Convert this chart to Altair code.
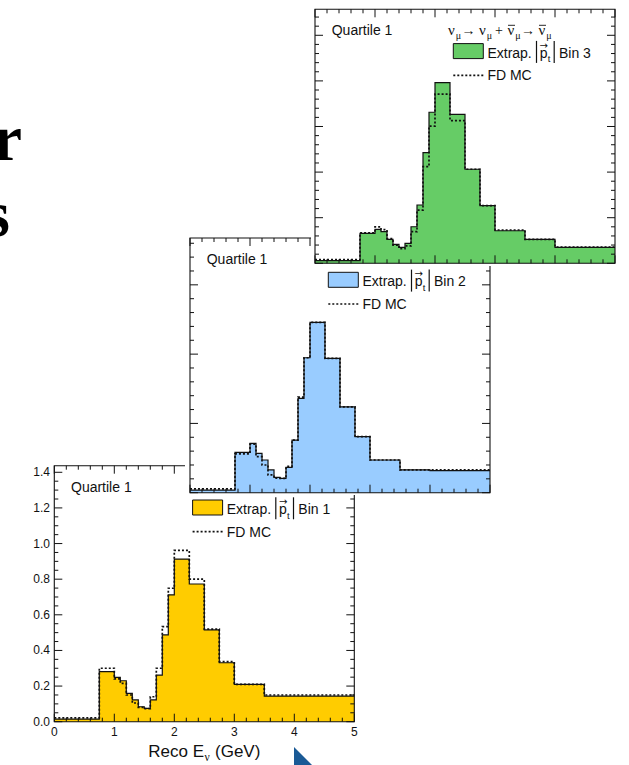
import altair as alt
import pandas as pd

# ---------------- data ----------------
bin_edges = [0, 0.75, 1.0, 1.1, 1.2, 1.3, 1.4, 1.5, 1.6, 1.7, 1.8, 1.9,
             2.0, 2.25, 2.5, 2.75, 3.0, 3.5, 4.0, 5.0]

extrap_bin1 = [0.015, 0.281, 0.249, 0.230, 0.159, 0.122, 0.084, 0.075, 0.122, 0.262,
               0.487, 0.712, 0.913, 0.773, 0.515, 0.331, 0.210, 0.144, 0.144]
fdmc_bin1 = [0.022, 0.300, 0.240, 0.215, 0.150, 0.105, 0.080, 0.073, 0.140, 0.300,
             0.534, 0.749, 0.962, 0.800, 0.520, 0.337, 0.210, 0.150, 0.150]

extrap_bin2 = [0.019, 0.291, 0.356, 0.284, 0.236, 0.164, 0.111, 0.104, 0.183, 0.380,
               0.681, 0.974, 1.229, 0.970, 0.620, 0.404, 0.236, 0.164, 0.159]
fdmc_bin2 = [0.027, 0.280, 0.350, 0.260, 0.200, 0.128, 0.105, 0.104, 0.190, 0.380,
             0.690, 0.974, 1.229, 0.970, 0.620, 0.404, 0.236, 0.164, 0.164]

extrap_bin3 = [0.029, 0.329, 0.373, 0.347, 0.263, 0.208, 0.175, 0.219, 0.401, 0.639,
               1.213, 1.656, 1.980, 1.634, 1.031, 0.632, 0.357, 0.263, 0.175]
fdmc_bin3 = [0.040, 0.335, 0.400, 0.370, 0.270, 0.200, 0.160, 0.190, 0.347, 0.584,
             1.060, 1.505, 1.856, 1.564, 1.031, 0.632, 0.365, 0.263, 0.178]

x_tick_values = [0, 1, 2, 3, 4, 5]
x_tick_labels = ["0", "1", "2", "3", "4", "5"]
y_tick_values = [0.0, 0.2, 0.4, 0.6, 0.8, 1.0, 1.2, 1.4]
y_tick_labels = ["0.0", "0.2", "0.4", "0.6", "0.8", "1.0", "1.2", "1.4"]

panel_titles = ["Quartile 1", "Quartile 1", "Quartile 1"]
legend_bins = ["Bin 1", "Bin 2", "Bin 3"]
fill_colors = ["#FFCC00", "#99CCFF", "#66CC66"]
extrap_all = [extrap_bin1, extrap_bin2, extrap_bin3]
fdmc_all = [fdmc_bin1, fdmc_bin2, fdmc_bin3]

# ---------------- layout ----------------
FONT = "Liberation Sans"
SERIF = "Liberation Serif"
INK = "#111111"
LEG = 14

geom = [
    {"L": 54.3, "R": 354.3, "T": 465.7, "B": 721.7, "ymax": 1.437, "ymaj": 0.2, "ymin": 0.05},
    {"L": 190.0, "R": 490.0, "T": 238.0, "B": 492.7, "ymax": 1.838, "ymaj": 0.5, "ymin": 0.1},
    {"L": 315.0, "R": 615.0, "T": 9.3, "B": 263.3, "ymax": 2.785, "ymaj": 0.5, "ymin": 0.1},
]
covers = [None, (185, 495, 232, 495), (311, 629, 0, 266)]

one = alt.Data(values=[{"a": 1}])
layers = []


def txt(x, y, s, size=13, font=FONT, align="left", baseline="alphabetic",
        weight="normal", color=INK):
    return alt.Chart(one).mark_text(
        text=s, font=font, fontSize=size, align=align, baseline=baseline,
        fontWeight=weight, color=color
    ).encode(x=alt.value(x), y=alt.value(y))


def rule(x1, x2, y1, y2, width=1.0, dash=None, color=INK):
    kw = dict(color=color, strokeWidth=width)
    if dash:
        kw["strokeDash"] = dash
    return alt.Chart(one).mark_rule(**kw).encode(
        x=alt.value(x1), x2=alt.value(x2), y=alt.value(y1), y2=alt.value(y2))


def step_df(vals):
    return pd.DataFrame({"e": bin_edges, "v": list(vals) + [vals[-1]]})


def ticks(step, top):
    n = int(top / step + 1e-6)
    return [round(k * step, 4) for k in range(n + 1)]


for i, g in enumerate(geom):
    L, R, T, B = g["L"], g["R"], g["T"], g["B"]
    xs = alt.Scale(domain=[0, 5], range=[L, R], nice=False, zero=False)
    ys = alt.Scale(domain=[0, g["ymax"]], range=[B, T], nice=False, zero=False)
    X = alt.X("e:Q", scale=xs, axis=None)
    Y = alt.Y("v:Q", scale=ys, axis=None)

    if covers[i]:
        c = covers[i]
        layers.append(alt.Chart(one).mark_rect(color="white", opacity=1).encode(
            x=alt.value(c[0]), x2=alt.value(c[1]), y=alt.value(c[2]), y2=alt.value(c[3])))

    ext = step_df(extrap_all[i])
    mc = step_df(fdmc_all[i])
    layers.append(alt.Chart(ext).mark_area(interpolate="step-after", color=fill_colors[i],
                                           opacity=1).encode(x=X, y=Y, y2=alt.datum(0)))
    layers.append(alt.Chart(ext).mark_line(interpolate="step-after", color=INK,
                                           strokeWidth=1.2).encode(x=X, y=Y))
    layers.append(alt.Chart(mc).mark_line(interpolate="step-after", color=INK,
                                          strokeWidth=1.7, strokeDash=[2, 2]).encode(x=X, y=Y))

    # frame
    layers.append(alt.Chart(one).mark_rect(fillOpacity=0, stroke=INK, strokeWidth=1.1).encode(
        x=alt.value(L), x2=alt.value(R), y=alt.value(T), y2=alt.value(B)))

    # ticks (inward, on all four sides)
    ymaj = ticks(g["ymaj"], g["ymax"])
    ymin = [v for v in ticks(g["ymin"], g["ymax"])
            if min(abs(v - m) for m in ymaj) > 1e-6]
    xmaj = list(x_tick_values)
    xmin = [v for v in ticks(0.2, 5) if min(abs(v - m) for m in xmaj) > 1e-6]
    for vals, ln in ((ymaj, 8), (ymin, 4)):
        d = pd.DataFrame({"v": vals})
        layers.append(alt.Chart(d).mark_rule(color=INK, strokeWidth=1).encode(
            y=Y, x=alt.value(L), x2=alt.value(L + ln)))
        layers.append(alt.Chart(d).mark_rule(color=INK, strokeWidth=1).encode(
            y=Y, x=alt.value(R - ln), x2=alt.value(R)))
    for vals, ln in ((xmaj, 8), (xmin, 4)):
        d = pd.DataFrame({"e": vals})
        layers.append(alt.Chart(d).mark_rule(color=INK, strokeWidth=1).encode(
            x=X, y=alt.value(B - ln), y2=alt.value(B)))
        layers.append(alt.Chart(d).mark_rule(color=INK, strokeWidth=1).encode(
            x=X, y=alt.value(T), y2=alt.value(T + ln)))

    # panel text
    layers.append(txt(L + 16.7, T + 26, panel_titles[i], size=14))

    # legend
    layers.append(alt.Chart(one).mark_rect(color=fill_colors[i], stroke=INK, strokeWidth=1).encode(
        x=alt.value(L + 138.3), x2=alt.value(L + 168.3), y=alt.value(T + 34.3), y2=alt.value(T + 49.3)))
    layers.append(txt(L + 172.4, T + 48.3, "Extrap.", size=LEG))
    layers.append(rule(L + 221.5, L + 221.5, T + 31.6, T + 53.6, width=1.2))
    layers.append(txt(L + 224.8, T + 48.3, "p", size=LEG))
    layers.append(txt(L + 228.8, T + 36.3, "→", size=10, font="DejaVu Sans", align="center",
                      baseline="middle"))
    layers.append(txt(L + 232.8, T + 53.0, "t", size=9.5))
    layers.append(rule(L + 239.2, L + 239.2, T + 31.6, T + 53.6, width=1.2))
    layers.append(txt(L + 244.0, T + 48.3, legend_bins[i], size=LEG))
    layers.append(rule(L + 138.3, L + 168.3, T + 66, T + 66, width=1.7, dash=[2, 2]))
    layers.append(txt(L + 172.4, T + 71, "FD MC", size=LEG))

    if i == 0:
        # axis labels of the front panel
        dl = pd.DataFrame({"v": y_tick_values, "lab": y_tick_labels})
        layers.append(alt.Chart(dl).mark_text(align="right", baseline="middle", font=FONT,
                                              fontSize=12, color=INK).encode(
            y=Y, x=alt.value(L - 4.3), text="lab:N"))
        dx = pd.DataFrame({"e": x_tick_values, "lab": x_tick_labels})
        layers.append(alt.Chart(dx).mark_text(align="center", baseline="top", font=FONT,
                                              fontSize=12, color=INK).encode(
            x=X, y=alt.value(B + 5), text="lab:N"))
        layers.append(txt(148.3, 757, "Reco E", size=17))
        layers.append(txt(204.5, 761, "ν", size=11.5, font=SERIF))
        layers.append(txt(215.0, 757, "(GeV)", size=17))

    if i == 2:
        by = T + 26
        sub = by + 3.5
        pieces = [
            (448.0, by, "ν", 15, SERIF), (455.8, sub, "μ", 10, SERIF),
            (461.5, by - 0.5, "→", 14, SERIF),
            (479.0, by, "ν", 15, SERIF), (486.8, sub, "μ", 10, SERIF),
            (495.0, by, "+", 14, SERIF),
            (507.5, by, "ν", 15, SERIF), (515.3, sub, "μ", 10, SERIF),
            (521.0, by - 0.5, "→", 14, SERIF),
            (538.5, by, "ν", 15, SERIF), (546.3, sub, "μ", 10, SERIF),
        ]
        for (px, py, s, fs, fn) in pieces:
            layers.append(txt(px, py, s, size=fs, font=fn))
        layers.append(rule(508.0, 515.0, by - 10, by - 10, width=0.9))
        layers.append(rule(539.0, 546.0, by - 10, by - 10, width=0.9))

# slide fragments outside the plots
layers.append(txt(22, 160, "r", size=66, font=SERIF, weight="bold", align="right", color="#000000"))
layers.append(txt(10, 236, "s", size=66, font=SERIF, weight="bold", align="right", color="#000000"))
layers.append(alt.Chart(one).mark_point(shape="M-1,-1L-1,1L1,1Z", filled=True, fill="#1a5a96",
                                        size=484, strokeWidth=0, opacity=1).encode(
    x=alt.value(305), y=alt.value(758)))

chart = alt.layer(*layers).resolve_scale(x="independent", y="independent").properties(
    width=629, height=765, padding=0, autosize=alt.AutoSizeParams(type="none")
).configure_view(stroke=None)

chart.save("out.html", embed_options={"renderer": "svg", "actions": False})
